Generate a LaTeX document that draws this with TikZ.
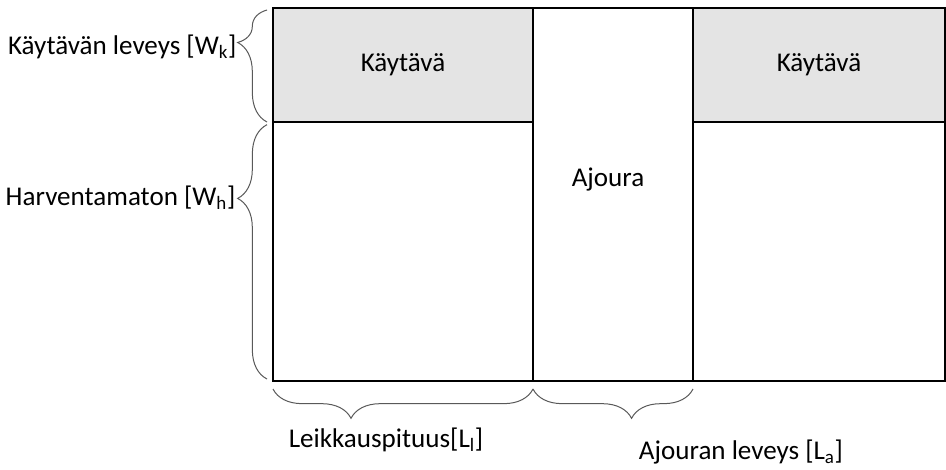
\documentclass[tikz,border=0pt]{standalone}
\usepackage{fontspec}
\setmainfont{Carlito}
\usetikzlibrary{positioning,decorations.pathreplacing}
\definecolor{harmaa}{HTML}{E4E4E4}
\definecolor{sulkuvari}{HTML}{595959}

\begin{document}
\begin{tikzpicture}[x=0.75pt,y=-0.75pt,
	every node/.style={font=\fontsize{20.3}{24}\selectfont},
	alue/.style={draw,line width=1pt,inner sep=0,outer sep=0,anchor=north west},
	sulje/.style={draw=sulkuvari,line width=0.75pt,decorate,decoration={brace,amplitude=22pt,aspect=#1}},
	sulje/.default=0.5]
\useasboundingbox (0,0) rectangle (946,470);
% alueet
\node[alue,fill=harmaa,minimum width=195pt,minimum height=85.5pt] (k1) at (273,8) {Käytävä};
\node[alue,minimum width=195pt,minimum height=194.25pt] (h1) at (k1.south west) {};
\node[alue,minimum width=120pt,minimum height=279.75pt] (aj) at (k1.north east) {};
\node[alue,fill=harmaa,minimum width=189pt,minimum height=85.5pt] (k2) at (aj.north east) {Käytävä};
\node[alue,minimum width=189pt,minimum height=194.25pt] (h2) at (k2.south west) {};
\node (ajt) at (608,180) {Ajoura};
% sulkeet
\draw[sulje=0.71] ([xshift=-4.5pt]k1.south west) -- ([xshift=-4.5pt,yshift=-1.5pt]k1.north west);
\draw[sulje=0.71] ([xshift=-4.5pt,yshift=1.5pt]h1.south west) -- ([xshift=-4.5pt,yshift=-2pt]h1.north west);
\draw[sulje=0.70] ([yshift=-6pt]h1.south east) -- ([yshift=-6pt]h1.south west);
\draw[sulje=0.384] ([yshift=-6pt]aj.south east) -- ([yshift=-6pt]aj.south west);
% selitteet
\node[anchor=east,inner sep=1pt] (wk) at (238,47) {Käytävän leveys [W\textsubscript{k}]};
\node[anchor=east,inner sep=1pt] (wh) at (237,198) {Harventamaton [W\textsubscript{h}]};
\node (ll) at (386,440) {Leikkauspituus[L\textsubscript{l}]};
\node (la) at (741,452) {Ajouran leveys [L\textsubscript{a}]};
\end{tikzpicture}
\end{document}
